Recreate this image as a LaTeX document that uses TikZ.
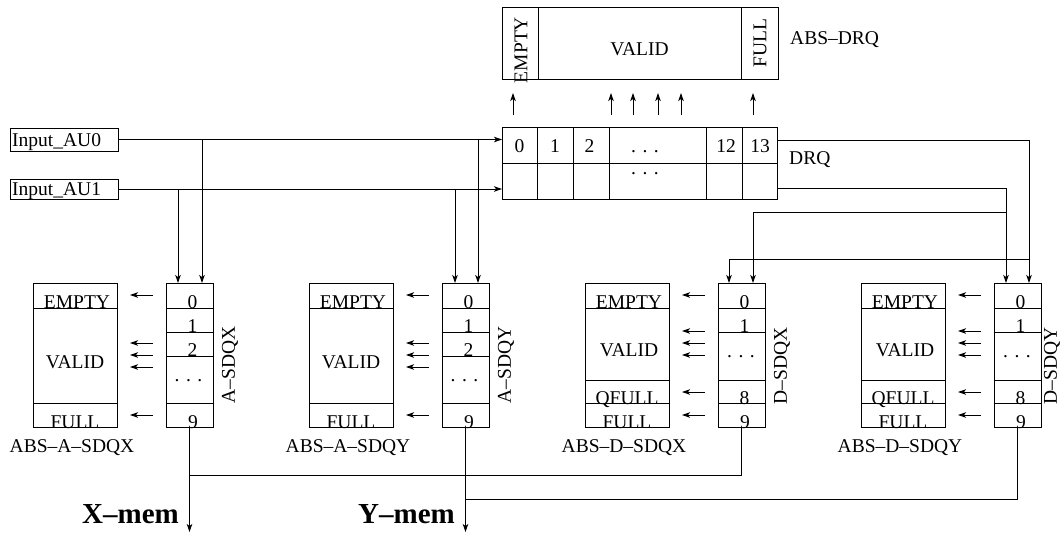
\documentclass[tikz,border=0pt]{standalone}
\usepackage{fontspec}
\setmainfont{Liberation Serif}
\usetikzlibrary{arrows.meta}
\newcommand\cellbox[5]{\node[box, minimum width={((#4)-(#2))*1pt}, minimum height={((#5)-(#3))*1pt}] (#1) at ({((#2)+(#4))/2},{((#3)+(#5))/2}) {};}
\newcommand\spdots{.\kern6.5pt.\kern6.5pt.}
\begin{document}
\begin{tikzpicture}[x=1pt,y=-1pt,
  box/.style={draw, line width=1pt, inner sep=0pt, outer sep=0pt},
  txt/.style={inner sep=0pt, font=\fontsize{19.5}{22}\selectfont},
  big/.style={inner sep=0pt, font=\fontsize{29}{32}\selectfont\bfseries},
  wire/.style={line width=1pt},
  arr/.style={wire, -{Stealth[length=8pt,width=5.5pt,inset=2pt]}}]
\useasboundingbox (0,0) rectangle (1062,533);

% ---------- ABS-DRQ ----------
\cellbox{adE}{502}{7}{538}{79}
\cellbox{adV}{538}{7}{741}{79}
\cellbox{adF}{741}{7}{778}{79}
\node[txt, rotate=90] (tadE) at (521,50) {EMPTY};
\node[txt, anchor=base] (tadV) at (639.5,55) {VALID};
\node[txt, rotate=90] (tadF) at (760,43) {FULL};
\node[txt, anchor=base west] (labADRQ) at (790,44.5) {ABS--DRQ};
\foreach \x [count=\k] in {513,611,633,658,681,753}
  \draw[arr] (\x,115) coordinate (ua\k) -- (\x,93) coordinate (ub\k);

% ---------- DRQ ----------
\cellbox{dq0}{502}{127}{537}{163}
\cellbox{dq1}{537}{127}{573}{163}
\cellbox{dq2}{573}{127}{609}{163}
\cellbox{dqd}{609}{127}{706}{163}
\cellbox{dq12}{706}{127}{742}{163}
\cellbox{dq13}{742}{127}{777}{163}
\cellbox{dq0b}{502}{163}{537}{199}
\cellbox{dq1b}{537}{163}{573}{199}
\cellbox{dq2b}{573}{163}{609}{199}
\cellbox{dqdb}{609}{163}{706}{199}
\cellbox{dq12b}{706}{163}{742}{199}
\cellbox{dq13b}{742}{163}{777}{199}
\node[txt, anchor=base] (tdq0) at (519.5,152) {0};
\node[txt, anchor=base] (tdq1) at (555,152) {1};
\node[txt, anchor=base] (tdq2) at (589.5,152) {2};
\node[txt, anchor=base] (tdqd) at (645,152) {\spdots};
\node[txt, anchor=base] (tdq12) at (726,152) {12};
\node[txt, anchor=base] (tdq13) at (760,152) {13};
\node[txt, anchor=base] (tdqdb) at (645,174) {\spdots};
\node[txt, anchor=base west] (labDRQ) at (789,164.5) {DRQ};

% ---------- inputs ----------
\cellbox{in0}{10}{128}{118}{151}
\cellbox{in1}{10}{179}{118}{199}
\node[txt, anchor=base west] (tin0) at (12,146) {Input\_AU0};
\node[txt, anchor=base west] (tin1) at (12,195) {Input\_AU1};

% ---------- A blocks ----------
\foreach \ox/\p/\lab/\blab in {0/ax/{A--SDQX}/{ABS--A--SDQX}, 276/ay/{A--SDQY}/{ABS--A--SDQY}} {
  \cellbox{\p-i0}{166+\ox}{283}{213+\ox}{308}
  \cellbox{\p-i1}{166+\ox}{308}{213+\ox}{332}
  \cellbox{\p-i2}{166+\ox}{332}{213+\ox}{356}
  \cellbox{\p-id}{166+\ox}{356}{213+\ox}{403}
  \cellbox{\p-i9}{166+\ox}{403}{213+\ox}{427}
  \cellbox{\p-aE}{33+\ox}{283}{117+\ox}{308}
  \cellbox{\p-aV}{33+\ox}{308}{117+\ox}{403}
  \cellbox{\p-aF}{33+\ox}{403}{117+\ox}{427}
  \node[txt, anchor=base] (\p-t0) at ({192.5+\ox},308.5) {0};
  \node[txt, anchor=base] (\p-t1) at ({192.5+\ox},332.5) {1};
  \node[txt, anchor=base] (\p-t2) at ({192.5+\ox},356.5) {2};
  \node[txt, anchor=base] (\p-td) at ({188.5+\ox},381) {\spdots};
  \node[txt, anchor=base] (\p-t9) at ({193+\ox},428) {9};
  \node[txt, anchor=base] (\p-tE) at ({77+\ox},308.5) {EMPTY};
  \node[txt, anchor=base] (\p-tV) at ({75+\ox},368) {VALID};
  \node[txt, anchor=base] (\p-tF) at ({75+\ox},428) {FULL};
  \node[txt, rotate=90] (\p-lab) at ({230+\ox},365) {\lab};
  \node[txt, anchor=base] (\p-blab) at ({72+\ox},452.5) {\blab};
  \foreach \yy [count=\k] in {295,343,355,367,415}
    \draw[arr] ({153+\ox},\yy) coordinate (\p-s\k) -- ({130+\ox},\yy) coordinate (\p-e\k);
}

% ---------- D blocks ----------
\foreach \ox/\p/\lab/\blab/\lx in {552/dx/{D--SDQX}/{ABS--D--SDQX}/782, 828/dy/{D--SDQY}/{ABS--D--SDQY}/1052} {
  \cellbox{\p-i0}{166+\ox}{283}{213+\ox}{308}
  \cellbox{\p-i1}{166+\ox}{308}{213+\ox}{332}
  \cellbox{\p-id}{166+\ox}{332}{213+\ox}{380}
  \cellbox{\p-i8}{166+\ox}{380}{213+\ox}{403}
  \cellbox{\p-i9}{166+\ox}{403}{213+\ox}{427}
  \cellbox{\p-aE}{33+\ox}{283}{117+\ox}{308}
  \cellbox{\p-aV}{33+\ox}{308}{117+\ox}{380}
  \cellbox{\p-aQ}{33+\ox}{380}{117+\ox}{403}
  \cellbox{\p-aF}{33+\ox}{403}{117+\ox}{427}
  \node[txt, anchor=base] (\p-t0) at ({192.5+\ox},308.5) {0};
  \node[txt, anchor=base] (\p-t1) at ({192.5+\ox},332.5) {1};
  \node[txt, anchor=base] (\p-td) at ({189+\ox},357) {\spdots};
  \node[txt, anchor=base] (\p-t8) at ({192.5+\ox},404) {8};
  \node[txt, anchor=base] (\p-t9) at ({193+\ox},428) {9};
  \node[txt, anchor=base] (\p-tE) at ({77+\ox},308.5) {EMPTY};
  \node[txt, anchor=base] (\p-tV) at ({77+\ox},356) {VALID};
  \node[txt, anchor=base] (\p-tQ) at ({75+\ox},404) {QFULL};
  \node[txt, anchor=base] (\p-tF) at ({75+\ox},428) {FULL};
  \node[txt, rotate=90] (\p-lab) at (\lx,366) {\lab};
  \node[txt, anchor=base] (\p-blab) at ({72+\ox},452.5) {\blab};
  \foreach \yy [count=\k] in {295,331,343,355,392,415}
    \draw[arr] ({153+\ox},\yy) coordinate (\p-s\k) -- ({130+\ox},\yy) coordinate (\p-e\k);
}

% ---------- input wiring ----------
\draw[arr] (in0.east) -- (in0.east -| dq0.west);
\draw[arr] (in1.east) -- (in1.east -| dq0b.west);
\coordinate (b0a) at (202,139.5);
\coordinate (b0b) at (478,139.5);
\coordinate (b1a) at (178,189);
\coordinate (b1b) at (455,189);
\draw[arr] (b0a) -- (b0a |- ax-i0.north);
\draw[arr] (b1a) -- (b1a |- ax-i0.north);
\draw[arr] (b0b) -- (b0b |- ay-i0.north);
\draw[arr] (b1b) -- (b1b |- ay-i0.north);

% ---------- DRQ to D blocks ----------
\coordinate (r1) at (1029,140);
\coordinate (r1b) at (1029,259);
\coordinate (r1c) at (729,259);
\coordinate (r2) at (1006,188);
\coordinate (r2b) at (1006,212);
\coordinate (r2c) at (753,212);
\draw[arr] ([yshift=5pt]dq13.east) -- (r1) -- (r1 |- dy-i0.north);
\draw[arr] (r1b) -- (r1c) -- (r1c |- dx-i0.north);
\draw[arr] ([yshift=-7pt]dq13b.east) -- (r2) -- (r2 |- dy-i0.north);
\draw[arr] (r2b) -- (r2c) -- (r2c |- dx-i0.north);

% ---------- outputs ----------
\draw[arr] (ax-i9.south) -- ++(0,105) coordinate (xm);
\draw[wire] (dx-i9.south) |- ([yshift=-48pt]ax-i9.south);
\draw[arr] (ay-i9.south) -- ++(0,105) coordinate (ym);
\draw[wire] (dy-i9.south) |- ([yshift=-72pt]ay-i9.south);
\node[big, anchor=base east] (xmem) at (179,523) {X--mem};
\node[big, anchor=base east] (ymem) at (455,523) {Y--mem};
\end{tikzpicture}
\end{document}
